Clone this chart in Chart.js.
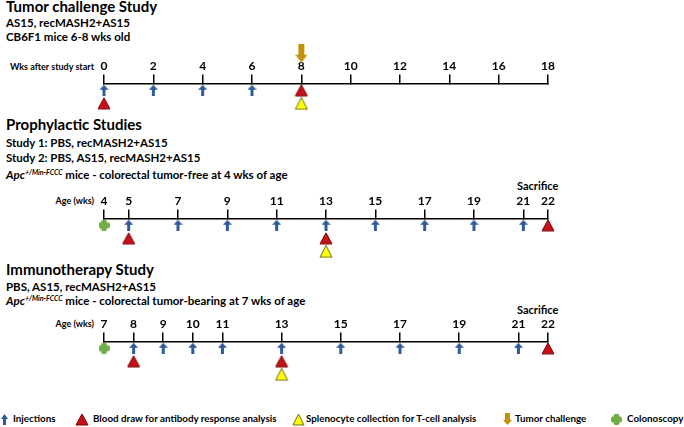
<!DOCTYPE html>
<html>
<head>
<meta charset="utf-8">
<script src="https://cdn.jsdelivr.net/npm/chart.js@4.4.1/dist/chart.umd.min.js"></script>
<style>
  html, body { margin: 0; padding: 0; background: #fff; }
  #page { position: relative; width: 684px; height: 427px; overflow: hidden;
          font-family: Lato, sans-serif; font-weight: bold; color: #000; }
  .t { position: absolute; white-space: nowrap; line-height: 1; }
  .h1 { font-size: 15px; left: 6px; }
  .h2 { font-size: 11.5px; left: 6px; }
  .ax { font-size: 9px; right: 590px; text-align: right; }
  .sac { font-size: 11px; left: 517px; }
  .lg { font-size: 9.8px; }
  sup { font-size: 7px; vertical-align: 0; position: relative; top: -4px; }
  canvas.tl { position: absolute; left: 0; }
  canvas.icon { position: absolute; }
</style>
</head>
<body>
<div id="page">
  <div class="t h1" style="top:-1.5px">Tumor challenge Study</div>
  <div class="t h2" style="top:17.4px">AS15, recMASH2+AS15</div>
  <div class="t h2" style="top:31.4px">CB6F1 mice 6-8 wks old</div>
  <div class="t ax" style="top:62.2px">Wks after study start</div>

  <div class="t h1" style="top:117px">Prophylactic Studies</div>
  <div class="t h2" style="top:136.9px">Study 1: PBS, recMASH2+AS15</div>
  <div class="t h2" style="top:151.9px">Study 2: PBS, AS15, recMASH2+AS15</div>
  <div class="t h2" style="top:168.9px"><i>Apc</i><sup><i>+/Min-FCCC</i></sup> mice - colorectal tumor-free at 4 wks of age</div>
  <div class="t sac" style="top:180.2px">Sacrifice</div>
  <div class="t ax" style="top:196.2px">Age (wks)</div>

  <div class="t h1" style="top:262px">Immunotherapy Study</div>
  <div class="t h2" style="top:280.9px">PBS, AS15, recMASH2+AS15</div>
  <div class="t h2" style="top:294.9px"><i>Apc</i><sup><i>+/Min-FCCC</i></sup> mice - colorectal tumor-bearing at 7 wks of age</div>
  <div class="t sac" style="top:304.2px">Sacrifice</div>
  <div class="t ax" style="top:319.2px">Age (wks)</div>

  <canvas id="tl1" class="tl" width="684" height="105" style="top:30px"></canvas>
  <canvas id="tl2" class="tl" width="684" height="105" style="top:165px"></canvas>
  <canvas id="tl3" class="tl" width="684" height="105" style="top:288px"></canvas>
  <div id="legend"></div>
</div>
<script>
// Tumor challenge study (weeks after study start)
const tcTicks = [0, 2, 4, 6, 8, 10, 12, 14, 16, 18];
const tcInjections = [0, 2, 4, 6];
const tcBlood = [0, 8];
const tcSplenocytes = [8];
const tcChallenge = [8];

// Prophylactic studies (age in weeks)
const proTicks = [4, 5, 7, 9, 11, 13, 15, 17, 19, 21, 22];
const proColonoscopy = [4];
const proInjections = [5, 7, 9, 11, 13, 15, 17, 19, 21];
const proBlood = [5, 13, 22];
const proSplenocytes = [13];

// Immunotherapy study (age in weeks)
const immTicks = [7, 8, 9, 10, 11, 13, 15, 17, 19, 21, 22];
const immColonoscopy = [7];
const immInjections = [8, 9, 10, 11, 13, 15, 17, 19, 21];
const immBlood = [8, 13, 22];
const immSplenocytes = [13];

const legendLabels = ['Injections', 'Blood draw for antibody response analysis',
  'Splenocyte collection for T-cell analysis', 'Tumor challenge', 'Colonoscopy'];

const BLUE = '#2f5b9a', RED = '#c8101a', RED_EDGE = '#7a0000',
      YELLOW = '#ffff00', YELLOW_EDGE = '#6b6b2a', GOLD = '#c4920a', GREEN = '#70ad47';

// lanes on the hidden y axis: the time line sits at 0.5, marks hang below it
const AXIS_LANE = 0.5;
const CHALLENGE_LANE = -1.85;

function makeCanvas(w, h) {
  const c = document.createElement('canvas');
  c.width = w; c.height = h;
  return c;
}

function arrowIcon(color, w, h, head, stem, down) {
  const c = makeCanvas(w, h), g = c.getContext('2d');
  const l = (w - stem) / 2, r = (w + stem) / 2;
  g.fillStyle = color;
  g.beginPath();
  if (!down) {
    g.moveTo(w / 2, 0); g.lineTo(w, head); g.lineTo(r, head); g.lineTo(r, h);
    g.lineTo(l, h); g.lineTo(l, head); g.lineTo(0, head);
  } else {
    g.moveTo(w / 2, h); g.lineTo(w, h - head); g.lineTo(r, h - head); g.lineTo(r, 0);
    g.lineTo(l, 0); g.lineTo(l, h - head); g.lineTo(0, h - head);
  }
  g.closePath();
  g.fill();
  return c;
}

function triangleIcon(fill, stroke, w, h) {
  const c = makeCanvas(w + 2, h + 2), g = c.getContext('2d');
  g.beginPath();
  g.moveTo(1 + w / 2, 1); g.lineTo(1 + w, 1 + h); g.lineTo(1, 1 + h);
  g.closePath();
  g.fillStyle = fill; g.fill();
  g.strokeStyle = stroke; g.lineWidth = 1; g.stroke();
  return c;
}

function crossIcon(color, s) {
  const c = makeCanvas(s, s), g = c.getContext('2d');
  const a = s * 0.27;
  g.fillStyle = color;
  g.beginPath();
  if (g.roundRect) {
    g.roundRect(s / 2 - a, 0, 2 * a, s, 2);
    g.roundRect(0, s / 2 - a, s, 2 * a, 2);
  } else {
    g.rect(s / 2 - a, 0, 2 * a, s);
    g.rect(0, s / 2 - a, s, 2 * a);
  }
  g.fill();
  return c;
}

const icons = {
  injection: arrowIcon(BLUE, 9, 11, 5, 3, false),
  blood: triangleIcon(RED, RED_EDGE, 12, 11),
  spleno: triangleIcon(YELLOW, YELLOW_EDGE, 12, 12),
  challenge: arrowIcon(GOLD, 12, 19, 8, 6, true),
  colonoscopy: crossIcon(GREEN, 11)
};

Chart.defaults.font.family = 'Lato';

function timeline(id, ticks, ev) {
  const bloodLane = w => (ev.injections.includes(w) ? 2 : 1);
  const splenoLane = w => (ev.blood.includes(w) ? bloodLane(w) + 1 : bloodLane(w));
  const datasets = [];
  const add = (label, weeks, icon, lane) => {
    if (!weeks) return;
    datasets.push({
      label: label,
      data: weeks.map(w => ({ x: w, y: lane(w) })),
      pointStyle: icon,
      pointRadius: 6,
      clip: false
    });
  };
  add('Colonoscopy', ev.colonoscopy, icons.colonoscopy, () => 1);
  add('Injections', ev.injections, icons.injection, () => 1);
  add('Blood draw', ev.blood, icons.blood, bloodLane);
  add('Splenocytes', ev.spleno, icons.spleno, splenoLane);
  add('Tumor challenge', ev.challenge, icons.challenge, () => CHALLENGE_LANE);

  return new Chart(document.getElementById(id), {
    type: 'scatter',
    data: { datasets: datasets },
    options: {
      responsive: false,
      animation: false,
      events: [],
      layout: { padding: { left: 104, right: 136, top: 0, bottom: 0 } },
      plugins: { legend: { display: false }, tooltip: { enabled: false } },
      scales: {
        x: {
          type: 'linear',
          min: ticks[0],
          max: ticks[ticks.length - 1],
          position: { y: AXIS_LANE },
          afterBuildTicks: s => { s.ticks = ticks.map(v => ({ value: v })); },
          grid: { drawOnChartArea: false, drawTicks: true, tickLength: -10, color: '#000', lineWidth: 1.5 },
          border: { color: '#000', width: 1.5 },
          ticks: {
            padding: -15,
            color: '#000',
            autoSkip: false,
            maxRotation: 0,
            font: { size: 12, weight: 'bold' },
            callback: v => String(v)
          }
        },
        y: { type: 'linear', reverse: true, min: -3.1, max: 3.9, display: false }
      }
    }
  });
}

timeline('tl1', tcTicks, { injections: tcInjections, blood: tcBlood, spleno: tcSplenocytes, challenge: tcChallenge });
timeline('tl2', proTicks, { colonoscopy: proColonoscopy, injections: proInjections, blood: proBlood, spleno: proSplenocytes });
timeline('tl3', immTicks, { colonoscopy: immColonoscopy, injections: immInjections, blood: immBlood, spleno: immSplenocytes });

// legend along the bottom
const legendIcons = [
  arrowIcon(BLUE, 7, 11, 5, 3, false),
  triangleIcon(RED, RED_EDGE, 12, 11),
  triangleIcon(YELLOW, YELLOW_EDGE, 11, 11),
  arrowIcon(GOLD, 9, 12, 5, 5, true),
  crossIcon(GREEN, 11)
];
const iconCenters = [4.5, 82, 298, 507, 616];
const textStarts = [13, 93, 306, 515, 627];
const legendY = 419;
const lg = document.getElementById('legend');
legendLabels.forEach((txt, i) => {
  const ic = legendIcons[i];
  ic.className = 'icon';
  ic.style.left = (iconCenters[i] - ic.width / 2) + 'px';
  ic.style.top = (legendY - ic.height / 2) + 'px';
  lg.appendChild(ic);
  const d = document.createElement('div');
  d.className = 't lg';
  d.style.left = textStarts[i] + 'px';
  d.style.top = (legendY - 5.2) + 'px';
  d.textContent = txt;
  lg.appendChild(d);
});
</script>
</body>
</html>
